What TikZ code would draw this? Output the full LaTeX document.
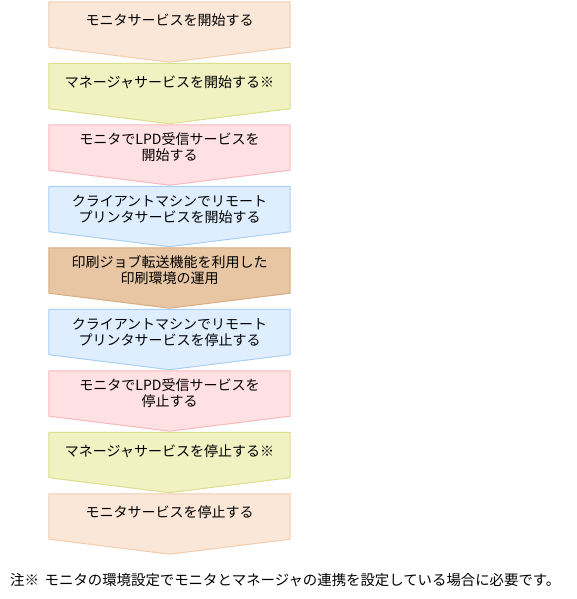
\documentclass[tikz,border=0pt]{standalone}
\usepackage{fontspec}
\setmainfont{Noto Sans CJK JP}
\usetikzlibrary{calc,positioning,backgrounds}

\definecolor{bgpeach}{HTML}{FAE7D7}
\definecolor{lnpeach}{HTML}{F4CDAE}
\definecolor{bglime}{HTML}{F1F1C2}
\definecolor{lnlime}{HTML}{DCDF8C}
\definecolor{bgpink}{HTML}{FFE1E3}
\definecolor{lnpink}{HTML}{F8B9BD}
\definecolor{bgsky}{HTML}{DEEEFF}
\definecolor{lnsky}{HTML}{A9CFF4}
\definecolor{bgtan}{HTML}{E8C6A3}
\definecolor{lntan}{HTML}{D6AC80}

\begin{document}
\begin{tikzpicture}[x=1pt,y=1pt]
        \tikzset{stepbox/.style={rectangle, align=center, minimum width=241pt, minimum height=45pt, inner sep=0pt,
                 font=\fontsize{14}{16}\selectfont},
        oneline/.style={text depth=9pt},
        note/.style={anchor=west, inner sep=0pt, font=\fontsize{14.4}{16}\selectfont}
        }
        \useasboundingbox (0,0) rectangle (576,-599);
        \node [stepbox, oneline] at (169.5,-24.5) (mon_start) {モニタサービスを開始する};
        \node [stepbox, oneline, below=16.1pt of mon_start] (mgr_start) {マネージャサービスを開始する※};
        \node [stepbox, below=16.1pt of mgr_start] (lpd_start) {モニタでLPD受信サービスを\\開始する};
        \node [stepbox, below=16.1pt of lpd_start] (rp_start) {クライアントマシンでリモート\\プリンタサービスを開始する};
        \node [stepbox, below=16.1pt of rp_start] (operate) {印刷ジョブ転送機能を利用した\\印刷環境の運用};
        \node [stepbox, below=16.1pt of operate] (rp_stop) {クライアントマシンでリモート\\プリンタサービスを停止する};
        \node [stepbox, below=16.1pt of rp_stop] (lpd_stop) {モニタでLPD受信サービスを\\停止する};
        \node [stepbox, oneline, below=16.1pt of lpd_stop] (mgr_stop) {マネージャサービスを停止する※};
        \node [stepbox, oneline, below=16.1pt of mgr_stop] (mon_stop) {モニタサービスを停止する};

        \node [note] at (10,-580) (footnote) {注※\hspace{0.4em}モニタの環境設定でモニタとマネージャの連携を設定している場合に必要です。};

%% shapes
        \begin{scope}[on background layer]
        \foreach \n/\k in {mon_start/peach, mgr_start/lime, lpd_start/pink, rp_start/sky, operate/tan,
                           rp_stop/sky, lpd_stop/pink, mgr_stop/lime, mon_stop/peach}
            \filldraw[fill=bg\k, draw=ln\k, line width=1pt]
                (\n.north west) -- (\n.north east) -- (\n.south east)
                -- ($(\n.south)+(0,-15)$) -- (\n.south west) -- cycle;
        \end{scope}
    \end{tikzpicture}
\end{document}
